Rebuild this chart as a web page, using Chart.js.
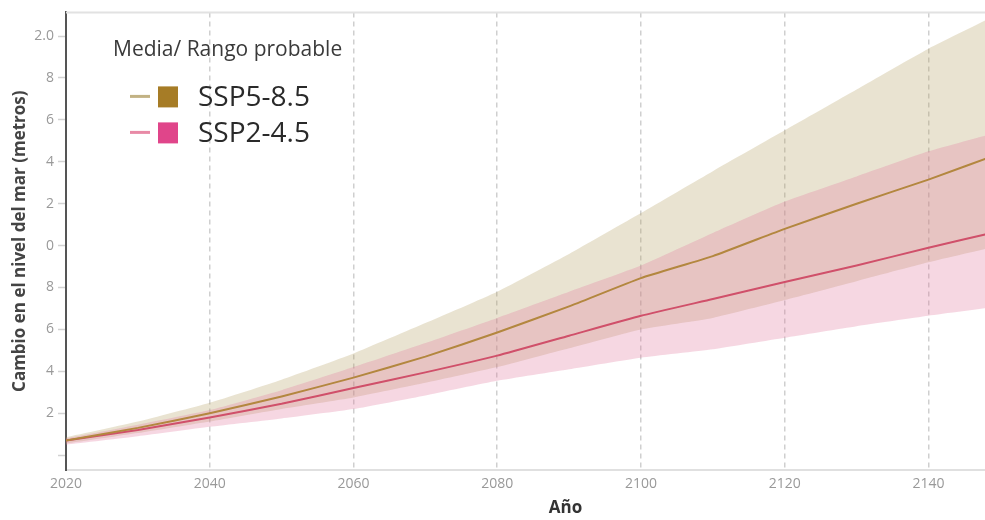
<!DOCTYPE html>
<html>
<head>
<meta charset="utf-8">
<script src="https://cdn.jsdelivr.net/npm/chart.js@4.4.1/dist/chart.umd.min.js"></script>
<style>
  html, body { margin: 0; padding: 0; background: #fff; overflow: hidden; }
  #wrap { position: absolute; left: 0; top: 0; width: 1065px; height: 520px; }
</style>
</head>
<body>
<div id="wrap"><canvas id="c" width="1065" height="520"></canvas></div>
<script>
// Sea-level change projections (metres), median and likely range per scenario
const years = [2020, 2030, 2040, 2050, 2060, 2070, 2080, 2090, 2100, 2110, 2120, 2130, 2140, 2150];

const ssp585Median = [0.07, 0.13, 0.20, 0.28, 0.37, 0.47, 0.585, 0.71, 0.845, 0.95, 1.08, 1.20, 1.315, 1.44];
const ssp585Upper  = [0.085, 0.16, 0.25, 0.36, 0.485, 0.63, 0.78, 0.96, 1.155, 1.355, 1.55, 1.745, 1.94, 2.11];
const ssp585Lower  = [0.055, 0.105, 0.16, 0.22, 0.275, 0.345, 0.42, 0.51, 0.60, 0.655, 0.74, 0.83, 0.92, 1.0];

const ssp245Median = [0.07, 0.12, 0.18, 0.245, 0.32, 0.395, 0.475, 0.57, 0.665, 0.745, 0.826, 0.905, 0.99, 1.07];
const ssp245Upper  = [0.08, 0.145, 0.215, 0.31, 0.42, 0.535, 0.655, 0.78, 0.905, 1.06, 1.21, 1.33, 1.45, 1.545];
const ssp245Lower  = [0.05, 0.09, 0.135, 0.175, 0.22, 0.285, 0.355, 0.41, 0.465, 0.505, 0.56, 0.615, 0.665, 0.71];

const xTickYears  = [2020, 2040, 2060, 2080, 2100, 2120, 2140];
const yTickValues = [0, 0.2, 0.4, 0.6, 0.8, 1.0, 1.2, 1.4, 1.6, 1.8, 2.0];
const yTickLabels = ['', '2', '4', '6', '8', '0', '2', '4', '6', '8', '2.0'];

const legendTitle = 'Media/ Rango probable';
const scenarioNames = ['SSP5-8.5', 'SSP2-4.5'];
const xTitle = 'Año';
const yTitle = 'Cambio en el nivel del mar (metros)';

const pts = arr => arr.map((v, i) => ({ x: years[i], y: v }));

const COL = {
  ssp585Line: '#b3873f',
  ssp585Band: 'rgba(182,162,104,0.30)',
  ssp585Key: '#a67c26',
  ssp585KeyLine: '#c2b284',
  ssp245Line: '#d0506a',
  ssp245Band: 'rgba(226,122,160,0.30)',
  ssp245Key: '#e0458a',
  ssp245KeyLine: '#e88aa6'
};

// Thin light frame line along the top of the plot area
const topFrame = {
  id: 'topFrame',
  beforeDatasetsDraw(chart) {
    const { ctx, chartArea } = chart;
    ctx.save();
    ctx.strokeStyle = '#e2e2e2';
    ctx.lineWidth = 2;
    ctx.beginPath();
    ctx.moveTo(chartArea.left, chartArea.top);
    ctx.lineTo(chartArea.right, chartArea.top);
    ctx.stroke();
    ctx.restore();
  }
};

// Legend box drawn inside the plot: title, then a line + swatch per scenario
const insetLegend = {
  id: 'insetLegend',
  afterDraw(chart) {
    const { ctx, chartArea } = chart;
    const x0 = chartArea.left, y0 = chartArea.top;
    ctx.save();
    ctx.textBaseline = 'middle';
    ctx.textAlign = 'left';
    ctx.fillStyle = '#3a3a3a';
    ctx.font = '21px "Open Sans", sans-serif';
    ctx.fillText(legendTitle, x0 + 47, y0 + 38);

    const rows = [
      { name: scenarioNames[0], line: COL.ssp585KeyLine, key: COL.ssp585Key, dy: 84 },
      { name: scenarioNames[1], line: COL.ssp245KeyLine, key: COL.ssp245Key, dy: 120 }
    ];
    rows.forEach(r => {
      const cy = y0 + r.dy;
      ctx.strokeStyle = r.line;
      ctx.lineWidth = 3;
      ctx.beginPath();
      ctx.moveTo(x0 + 64, cy);
      ctx.lineTo(x0 + 84, cy);
      ctx.stroke();
      ctx.fillStyle = r.key;
      ctx.fillRect(x0 + 92, cy - 10, 20, 21);
      ctx.fillStyle = '#2a2a2a';
      ctx.font = '28px "Open Sans", sans-serif';
      ctx.fillText(r.name, x0 + 132, cy + 2);
    });
    ctx.restore();
  }
};

const base = { pointRadius: 0, pointHoverRadius: 0, tension: 0.15 };

new Chart(document.getElementById('c'), {
  type: 'line',
  data: {
    datasets: [
      { ...base, label: 'SSP5-8.5 media', data: pts(ssp585Median), borderColor: COL.ssp585Line, borderWidth: 2, fill: false },
      { ...base, label: 'SSP2-4.5 media', data: pts(ssp245Median), borderColor: COL.ssp245Line, borderWidth: 2, fill: false },
      { ...base, label: 'SSP2-4.5 sup', data: pts(ssp245Upper), borderWidth: 0, borderColor: 'rgba(0,0,0,0)', backgroundColor: COL.ssp245Band, fill: '+1' },
      { ...base, label: 'SSP2-4.5 inf', data: pts(ssp245Lower), borderWidth: 0, borderColor: 'rgba(0,0,0,0)', fill: false },
      { ...base, label: 'SSP5-8.5 sup', data: pts(ssp585Upper), borderWidth: 0, borderColor: 'rgba(0,0,0,0)', backgroundColor: COL.ssp585Band, fill: '+1' },
      { ...base, label: 'SSP5-8.5 inf', data: pts(ssp585Lower), borderWidth: 0, borderColor: 'rgba(0,0,0,0)', fill: false }
    ]
  },
  options: {
    responsive: false,
    animation: false,
    events: [],
    layout: { padding: { left: 0, right: 0, top: 10, bottom: 0 } },
    plugins: { legend: { display: false }, tooltip: { enabled: false } },
    scales: {
      x: {
        type: 'linear',
        min: 2020,
        max: 2159,
        afterFit(scale) { scale.height = 50; },
        afterBuildTicks(scale) { scale.ticks = xTickYears.map(v => ({ value: v })); },
        ticks: {
          color: '#999',
          font: { family: '"Open Sans", sans-serif', size: 14 },
          padding: 6,
          maxRotation: 0,
          callback: v => String(v)
        },
        grid: { display: true, drawOnChartArea: true, drawTicks: false, color: '#cfcfcf', lineWidth: 1.5 },
        border: { display: true, color: '#e0e0e0', width: 2, dash: [5, 4] },
        title: {
          display: true,
          text: xTitle,
          color: '#333',
          font: { family: '"Open Sans", sans-serif', size: 17, weight: 'bold' },
          padding: { top: 0, bottom: 2 }
        }
      },
      y: {
        type: 'linear',
        min: -0.071,
        max: 2.113,
        afterFit(scale) { scale.width = 66; },
        afterBuildTicks(scale) { scale.ticks = yTickValues.map(v => ({ value: v })); },
        ticks: {
          color: '#999',
          font: { family: '"Open Sans", sans-serif', size: 14 },
          padding: 4,
          callback: (v, i) => yTickLabels[i]
        },
        grid: { display: true, drawOnChartArea: false, drawTicks: true, tickLength: 8, tickColor: '#d2d2d2', tickWidth: 1.5 },
        border: { display: true, color: '#555', width: 2 },
        title: {
          display: true,
          text: yTitle,
          color: '#444',
          font: { family: '"Open Sans", sans-serif', size: 17, weight: 'bold' },
          padding: { top: 10, bottom: 0 }
        }
      }
    }
  },
  plugins: [topFrame, insetLegend]
});
</script>
</body>
</html>
